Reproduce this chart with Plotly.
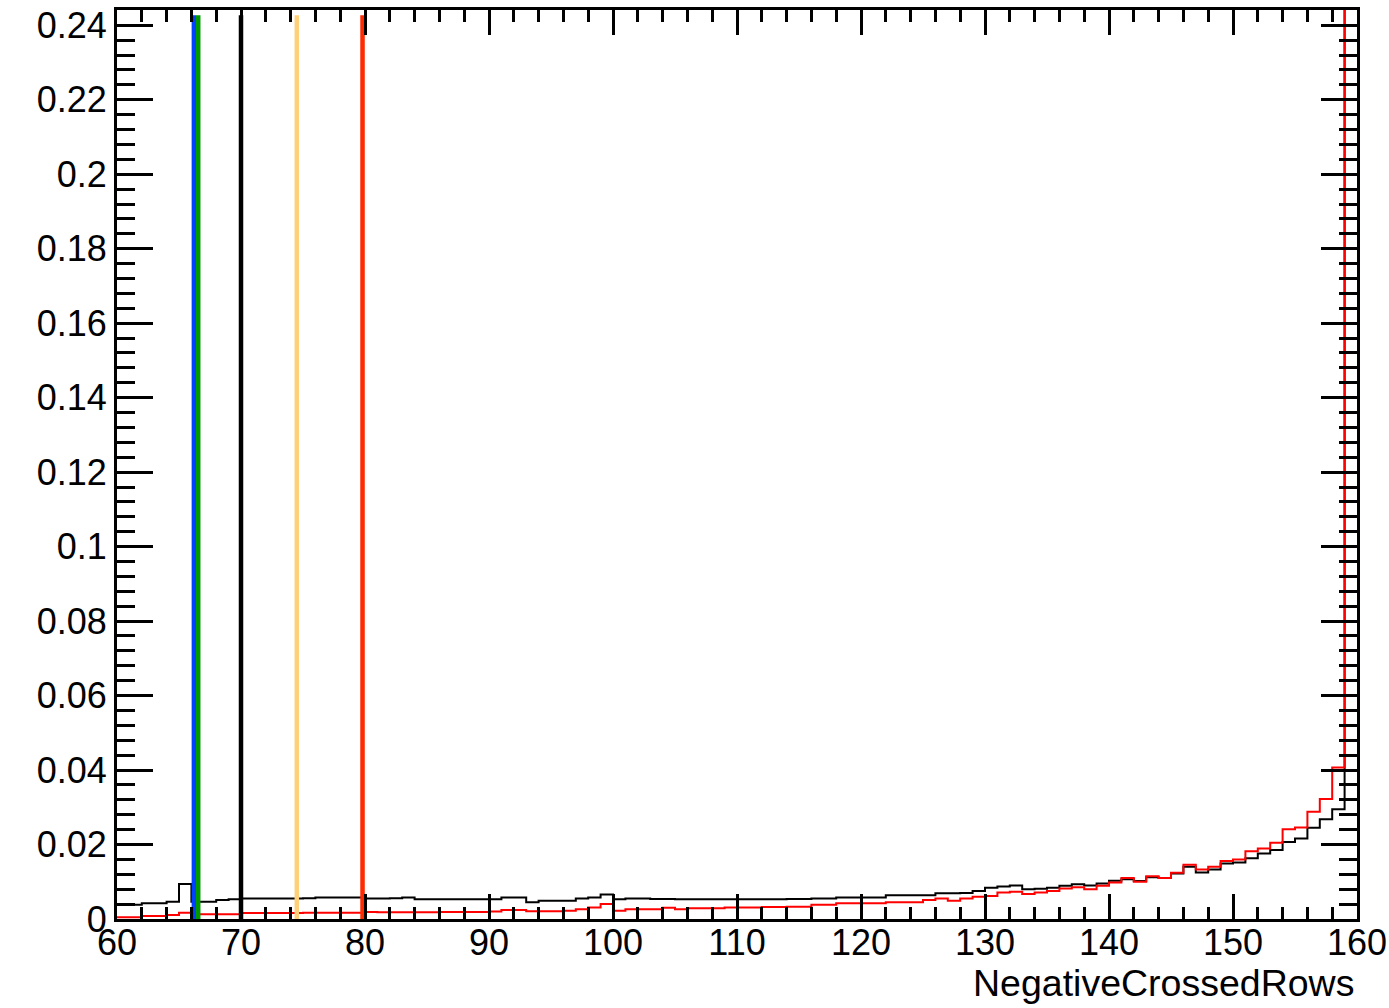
import plotly.graph_objects as go

# ---- data ----
bin_edges = list(range(60, 161))  # 100 bins of width 1

black_vals = [
    0.0038, 0.0038, 0.0042, 0.0042, 0.0046, 0.0094, 0.0046, 0.0046, 0.0051, 0.0053,
    0.0055, 0.0055, 0.0055, 0.0055, 0.0055, 0.0056, 0.0058, 0.0058, 0.0058, 0.0058,
    0.0055, 0.0055, 0.0056, 0.0058, 0.0053, 0.0053, 0.0053, 0.0053, 0.0053, 0.0053,
    0.0053, 0.0058, 0.0058, 0.0045, 0.0049, 0.0049, 0.0049, 0.0055, 0.0058, 0.0066,
    0.0053, 0.0055, 0.0055, 0.0054, 0.0054, 0.0053, 0.0053, 0.0053, 0.0053, 0.0053,
    0.0053, 0.0053, 0.0053, 0.0053, 0.0054, 0.0054, 0.0055, 0.0055, 0.0058, 0.0058,
    0.0058, 0.0058, 0.0064, 0.0064, 0.0064, 0.0064, 0.0069, 0.0069, 0.0070, 0.0075,
    0.0084, 0.0087, 0.0090, 0.0080, 0.0081, 0.0084, 0.0089, 0.0093, 0.0090, 0.0095,
    0.0103, 0.0107, 0.0102, 0.0112, 0.0110, 0.0122, 0.0140, 0.0125, 0.0133, 0.0149,
    0.0152, 0.0163, 0.0176, 0.0185, 0.0207, 0.0216, 0.0245, 0.0268, 0.0295, 0.3000,
]

red_vals = [
    0.00045, 0.00045, 0.0008, 0.0008, 0.0011, 0.0017, 0.0013, 0.0013, 0.0013, 0.0013,
    0.0016, 0.0016, 0.0016, 0.0016, 0.0016, 0.0017, 0.0017, 0.0017, 0.0017, 0.0017,
    0.0019, 0.0018, 0.0018, 0.0018, 0.0018, 0.0018, 0.0019, 0.0019, 0.0019, 0.0019,
    0.0020, 0.0024, 0.0024, 0.0021, 0.0021, 0.0021, 0.0022, 0.0026, 0.0031, 0.0040,
    0.0022, 0.0026, 0.0026, 0.0026, 0.0030, 0.0026, 0.0029, 0.0029, 0.0029, 0.0031,
    0.0031, 0.0031, 0.0032, 0.0032, 0.0033, 0.0033, 0.0038, 0.0038, 0.0042, 0.0042,
    0.0042, 0.0042, 0.0045, 0.0045, 0.0045, 0.0051, 0.0055, 0.0049, 0.0055, 0.0060,
    0.0062, 0.0071, 0.0073, 0.0067, 0.0071, 0.0075, 0.0082, 0.0085, 0.0080, 0.0089,
    0.0098, 0.0110, 0.0100, 0.0115, 0.0110, 0.0124, 0.0146, 0.0133, 0.0140, 0.0156,
    0.0160, 0.0182, 0.0189, 0.0205, 0.0241, 0.0246, 0.0288, 0.0322, 0.0407, 0.3200,
]

cut_positions = [66.2, 66.55, 70.0, 74.5, 79.8]
cut_colors = ["#0040FF", "#009A00", "#000000", "#FFD07A", "#FF2A00"]
cut_top = 0.2427

x_tick_vals = [60, 70, 80, 90, 100, 110, 120, 130, 140, 150, 160]
x_tick_text = ["60", "70", "80", "90", "100", "110", "120", "130", "140", "150", "160"]
y_tick_vals = [0, 0.02, 0.04, 0.06, 0.08, 0.10, 0.12, 0.14, 0.16, 0.18, 0.20, 0.22, 0.24]
y_tick_text = ["0", "0.02", "0.04", "0.06", "0.08", "0.1", "0.12", "0.14", "0.16",
               "0.18", "0.2", "0.22", "0.24"]
x_range = [60, 160]
y_range = [0, 0.2441]
x_title = "NegativeCrossedRows"

FONT = "Liberation Sans, Helvetica, Arial, sans-serif"

fig = go.Figure()

def step_trace(vals, color):
    ys = list(vals) + [vals[-1]]
    return go.Scatter(x=bin_edges, y=ys, mode="lines",
                      line=dict(color=color, width=2, shape="hv"),
                      hoverinfo="skip", showlegend=False, cliponaxis=True)

fig.add_trace(step_trace(black_vals, "#000000"))
fig.add_trace(step_trace(red_vals, "#FF0000"))

for xc, col in zip(cut_positions, cut_colors):
    fig.add_trace(go.Scatter(x=[xc, xc], y=[0, cut_top], mode="lines",
                             line=dict(color=col, width=4.5),
                             hoverinfo="skip", showlegend=False))

fig.update_layout(
    width=1389, height=1008,
    margin=dict(l=117, r=32, t=10, b=89, autoexpand=False),
    paper_bgcolor="white", plot_bgcolor="white",
    font=dict(family=FONT, size=36, color="black"),
    showlegend=False,
)

fig.update_xaxes(
    range=x_range, showgrid=False, zeroline=False, automargin=False,
    showline=True, linecolor="black", linewidth=3, mirror="allticks",
    ticks="inside", ticklen=25, tickwidth=3, tickcolor="black",
    tickmode="array", tickvals=x_tick_vals, ticktext=x_tick_text,
    tickfont=dict(family=FONT, size=36, color="black"),
    ticklabelstandoff=-10,
    minor=dict(ticks="inside", ticklen=12, tickwidth=3, tickcolor="black",
               tickmode="linear", tick0=60, dtick=2, showgrid=False),
)
fig.update_yaxes(
    range=y_range, showgrid=False, zeroline=False, automargin=False,
    showline=True, linecolor="black", linewidth=3, mirror="allticks",
    ticks="inside", ticklen=36, tickwidth=3, tickcolor="black",
    tickmode="array", tickvals=y_tick_vals, ticktext=y_tick_text,
    tickfont=dict(family=FONT, size=36, color="black"),
    ticklabelstandoff=0,
    minor=dict(ticks="inside", ticklen=18, tickwidth=3, tickcolor="black",
               tickmode="linear", tick0=0, dtick=0.004, showgrid=False),
)

fig.add_annotation(text=x_title, xref="paper", yref="paper", x=1, y=0,
                   xanchor="right", yanchor="middle", yshift=-64, xshift=-1,
                   showarrow=False, font=dict(family=FONT, size=37.5, color="black"))

fig.write_html("out.html")
